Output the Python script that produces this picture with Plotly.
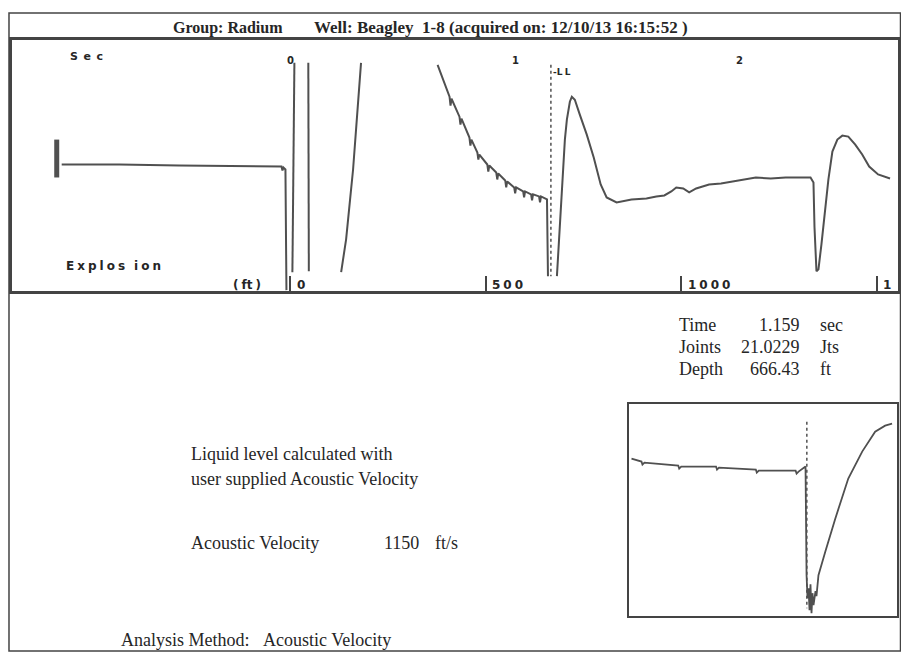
import plotly.graph_objects as go

W, H = 909, 662          # target page size (px)
OFF = 8                  # default body margin of the html page

# ---------------- data ----------------
# main acoustic trace: time (sec) vs amplitude (arbitrary units); None = off-scale gap
main_t = [
    -1.0177, -0.7611, -0.4956, -0.2301, -0.0398, -0.0354, -0.0310, -0.0221, -0.0177, None,
    0.0088, 0.0133, 0.0177, None,
    0.0796, 0.0819, None,
    0.2257, 0.2478, 0.2655, 0.2788, 0.2920, 0.3053, 0.3142, None,
    0.6549, 0.7080, 0.7124, 0.7168, 0.7522, 0.7566, 0.7611, 0.7965, 0.8009, 0.8053,
    0.8319, 0.8363, 0.8407, 0.8761, 0.8805, 0.8850, 0.9159, 0.9204, 0.9248,
    0.9558, 0.9602, 0.9646, 0.9956, 1.0000, 1.0044, 1.0354, 1.0398, 1.0442,
    1.0708, 1.0752, 1.0796, 1.1062, 1.1106, 1.1150, 1.1416, 1.1460, None,
    1.1858, 1.1947, 1.2035, 1.2124, 1.2212, 1.2301, 1.2434, 1.2522, 1.2655, 1.2876,
    1.3186, 1.3496, 1.3805, 1.4071, 1.4513, 1.5177, 1.5841, 1.6283, 1.6637, 1.6947,
    1.7168, 1.7478, 1.7743, 1.8053, 1.8628, 1.9159, 1.9690, 2.0265, 2.0708, 2.1372,
    2.2035, 2.2699, 2.3142, 2.3274, 2.3319, 2.3407, 2.3496, 2.3628, 2.3761, 2.3938,
    2.4115, 2.4336, 2.4558, 2.4823, 2.5133, 2.5442, 2.5752, 2.6150, 2.6681,
]
main_a = [
    1, 1, 0, -1, -1, -5, -2, -4, -125, None,
    -107, -14, 103, None,
    103, -106, None,
    -107, -74, -34, -4, 36, 71, 103, None,
    101, 69, 60, 67, 49, 41, 47, 28, 20, 26,
    13, 6, 11, 1, -6, 0, -7, -14, -8,
    -15, -22, -16, -22, -28, -22, -26, -32, -26,
    -29, -35, -29, -31, -37, -31, -34, -111, None,
    -111, -74, -34, 1, 26, 46, 64, 69, 66, 51,
    31, 8, -19, -32, -37, -34, -33, -31, -30, -26,
    -22, -23, -27, -23, -19, -18, -16, -14, -12, -13,
    -12, -12, -12, -17, -62, -106, -104, -79, -49, -14,
    14, 26, 30, 29, 21, 11, -1, -9, -13,
]

# shot marker at start of record
shot_t = [-1.0398, -1.0398]
shot_a = [26, -12]

# inset: zoom around the liquid level
inset_t = [0.9043, 0.9188, 0.9202, 0.9231, 0.9722, 0.9736, 0.9765, 1.0271, 1.0285, 1.0314,
           1.0849, 1.0863, 1.0892, 1.1427, 1.1441, 1.1470, 1.1571, 1.1586, 1.1600, 1.1615,
           1.1629, 1.1643, 1.1658, 1.1672, 1.1687, 1.1716, 1.1730, 1.1759, 1.1860, 1.2004,
           1.2192, 1.2394, 1.2582, 1.2727, 1.2828]
inset_a = [51.5, 48.5, 45.5, 47.5, 44.5, 41.5, 43.5, 43.5, 40.5, 42.5,
           40.5, 37.5, 39.5, 39.5, 36.5, 38.5, 43.5, -65.5, -88.5, -78.5,
           -100.5, -74.5, -103.5, -83.5, -95.5, -81.5, -86.5, -65.5, -41.5, -8.5,
           31.5, 58.5, 78.5, 84.5, 86.5]

liquid_level_time = 1.159      # sec
acoustic_velocity = 1150       # ft/s
depth_ticks = [0, 500, 1000, 1500]
depth_labels = ["0", "500", "1000", "1"]
time_ticks = [0, 1, 2]
time_labels = ["0", "1", "2"]

info_rows = [("Time", "1.159", "sec"), ("Joints", "21.0229", "Jts"), ("Depth", "666.43", "ft")]

# ---------------- figure ----------------
FW, FH = W - 2 * OFF, H - 2 * OFF      # keep the page free of scrolling
SPAN_X, SPAN_Y = 898, 648              # page extent (from x=8, y=8) mapped onto the figure


def px(x):
    return (x - OFF) / SPAN_X


def py(y):
    return 1 - (y - OFF) / SPAN_Y


TR = "#505050"
LN = "#444444"
TX = "#262626"
SERIF = "Liberation Serif"
BLOCK = "DejaVu Sans"
SP = "\u2005"


def spaced(s, n=1):
    return (SP * n).join(list(s))


fig = go.Figure()
fig.add_trace(go.Scatter(x=main_t, y=main_a, mode="lines", line=dict(color=TR, width=2),
                         connectgaps=False, hoverinfo="skip", xaxis="x", yaxis="y"))
fig.add_trace(go.Scatter(x=shot_t, y=shot_a, mode="lines", line=dict(color=TR, width=5),
                         hoverinfo="skip", xaxis="x", yaxis="y"))
fig.add_trace(go.Scatter(x=[liquid_level_time, liquid_level_time], y=[101, -111], mode="lines",
                         line=dict(color=TR, width=1.5, dash="dot"), hoverinfo="skip",
                         xaxis="x", yaxis="y"))
fig.add_trace(go.Scatter(x=inset_t, y=inset_a, mode="lines", line=dict(color=TR, width=1.8),
                         hoverinfo="skip", xaxis="x3", yaxis="y3"))
fig.add_trace(go.Scatter(x=[liquid_level_time, liquid_level_time], y=[88.5, -98.5], mode="lines",
                         line=dict(color=TR, width=1.5, dash="dot"), hoverinfo="skip",
                         xaxis="x3", yaxis="y3"))

tick_times = [2 * d / acoustic_velocity for d in depth_ticks]
t_left = (12 - 292) / 226
t_right = (903 - 292) / 226

ax_common = dict(showgrid=False, zeroline=False, showline=True, mirror=True,
                 linecolor=LN, fixedrange=True)

fig.update_layout(
    width=FW, height=FH, margin=dict(l=0, r=0, t=0, b=0),
    paper_bgcolor="white", plot_bgcolor="white", showlegend=False,
    xaxis=dict(domain=[px(12), px(903)], range=[t_left, t_right], linewidth=2.5,
               ticks="inside", tickvals=tick_times, ticklen=15, tickwidth=1.5, tickcolor=LN,
               showticklabels=False, **ax_common),
    yaxis=dict(domain=[py(292), py(40)], range=[-126, 126], linewidth=2.5,
               showticklabels=False, ticks="", **ax_common),
    xaxis3=dict(domain=[px(632), px(902)], range=[0.90, 1.29], linewidth=2,
                showticklabels=False, ticks="", anchor="y3", **ax_common),
    yaxis3=dict(domain=[py(618), py(405)], range=[-106.5, 106.5], linewidth=2,
                showticklabels=False, ticks="", anchor="x3", **ax_common),
)

# outer page frame
fig.add_shape(type="rect", xref="paper", yref="paper", x0=px(9), x1=px(905.5), y0=py(653), y1=py(13),
              line=dict(color=LN, width=1.5), layer="below")

ann = []


def A(text, x, y, size=18, xanchor="left", family=SERIF, color=TX, xref="paper", weight="normal"):
    ann.append(dict(text=text, x=x, y=y, xref=xref, yref="paper", xanchor=xanchor,
                    yanchor="middle", showarrow=False,
                    font=dict(family=family, size=size, color=color, weight=weight)))


A("Group: Radium", px(172), py(28), size=16, weight="bold")
A("Well: Beagley &nbsp;1-8 (acquired on: 12/10/13 16:15:52 )", px(314), py(28), size=17, weight="bold")

# top time labels
for t, lab in zip(time_ticks, time_labels):
    A(lab, t, py(61), size=10, xanchor="center", family=BLOCK, xref="x", weight="bold")
A(spaced("Sec", 2), px(68), py(57), size=11, family=BLOCK, weight="bold")
A(spaced("Explos") + SP * 3 + spaced("ion"), px(64), py(267), size=12, family=BLOCK, weight="bold")
A("-" + spaced("LL"), liquid_level_time, py(72), size=9, family=BLOCK, xref="x", weight="bold")

# bottom depth labels
for t, lab in zip(tick_times, depth_labels):
    A(spaced(lab), t + 0.02, py(286), size=12, family=BLOCK, xref="x", weight="bold")
A("(" + SP + "ft" + SP + ")", px(232), py(286), size=12, family=BLOCK, weight="bold")

# info block
for i, (name, val, unit) in enumerate(info_rows):
    yy = py(326 + i * 22)
    A(name, px(681), yy)
    A(val, px(806), yy, xanchor="right")
    A(unit, px(823), yy)

A("Liquid level calculated with", px(190), py(455))
A("user supplied Acoustic Velocity", px(190), py(480))
A("Acoustic Velocity", px(190), py(545))
A(str(acoustic_velocity), px(384), py(545))
A("ft/s", px(435), py(545))
A("Analysis Method: &nbsp;&nbsp;Acoustic Velocity", px(120), py(642))

fig.update_layout(annotations=ann)
fig.write_html("out.html")
